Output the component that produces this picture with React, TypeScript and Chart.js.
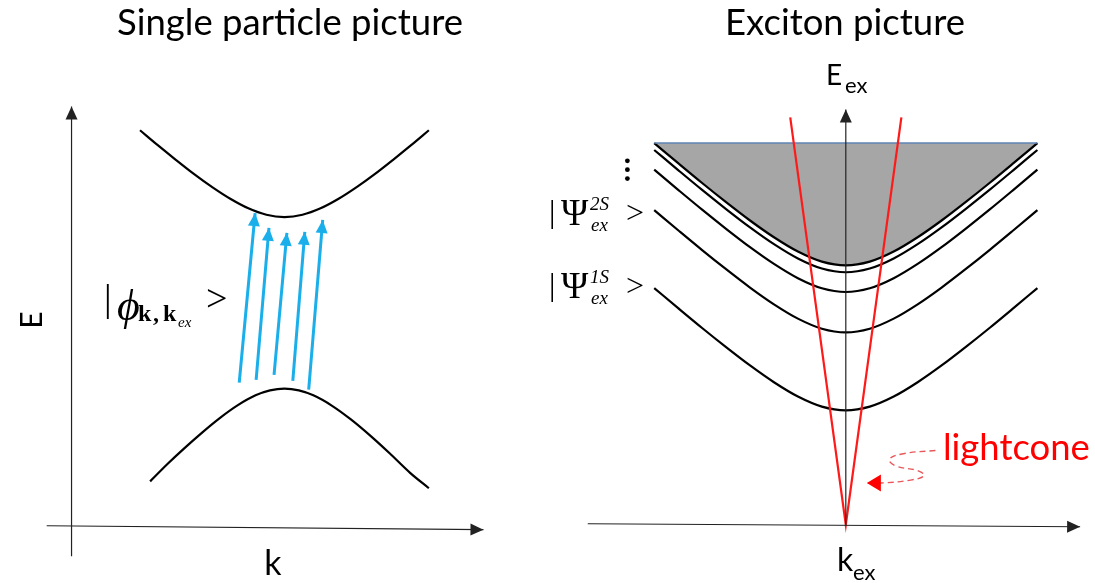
import { useEffect, useRef } from 'react';
import { Chart, registerables } from 'chart.js';

Chart.register(...registerables);

// ---------- Single particle picture (left panel) ----------
// k in units of the band half-width, E in arbitrary energy units
const bandK = [-1, -0.875, -0.75, -0.625, -0.5, -0.375, -0.25, -0.125, 0, 0.125, 0.25, 0.375, 0.5, 0.625, 0.75, 0.875, 1];
const conductionE = [4.02, 3.866, 3.718, 3.575, 3.443, 3.325, 3.228, 3.163, 3.14, 3.163, 3.228, 3.325, 3.443, 3.575, 3.718, 3.866, 4.02];
const valenceK = [-0.93, -0.81, -0.69, -0.57, -0.45, -0.325, -0.2, -0.1, 0, 0.1, 0.2, 0.33, 0.46, 0.6, 0.73, 0.87, 1.0];
const valenceE = [0.46, 0.636, 0.8, 0.955, 1.099, 1.23, 1.332, 1.382, 1.4, 1.382, 1.332, 1.226, 1.088, 0.916, 0.742, 0.546, 0.39];

// optical transitions valence -> conduction (tail and tip of each arrow)
const transFromK = [-0.313, -0.196, -0.072, 0.058, 0.168];
const transFromE = [1.46, 1.49, 1.54, 1.48, 1.39];
const transToK = [-0.203, -0.107, 0.017, 0.141, 0.265];
const transToE = [3.18, 3.03, 2.98, 2.99, 3.11];

// axes of the left panel
const leftAxisK = [-1.474, -1.474];
const leftAxisE = [-0.3, 4.26];
const leftBaseK = [-1.646, 1.378];
const leftBaseE = [0.01, -0.03];

// ---------- Exciton picture (right panel) ----------
const exK = [-1, -0.875, -0.75, -0.625, -0.5, -0.375, -0.25, -0.125, 0, 0.125, 0.25, 0.375, 0.5, 0.625, 0.75, 0.875, 1];
const continuumEdgeE = [3.87, 3.666, 3.465, 3.271, 3.085, 2.915, 2.77, 2.668, 2.63, 2.668, 2.77, 2.915, 3.085, 3.271, 3.465, 3.666, 3.87];
const rydberg4E = [3.8, 3.596, 3.395, 3.201, 3.015, 2.845, 2.7, 2.598, 2.56, 2.598, 2.7, 2.845, 3.015, 3.201, 3.395, 3.596, 3.8];
const rydberg3E = [3.6, 3.396, 3.195, 3.001, 2.815, 2.645, 2.5, 2.398, 2.36, 2.398, 2.5, 2.645, 2.815, 3.001, 3.195, 3.396, 3.6];
const exciton2SE = [3.19, 2.986, 2.785, 2.591, 2.405, 2.235, 2.09, 1.988, 1.95, 1.988, 2.09, 2.235, 2.405, 2.591, 2.785, 2.986, 3.19];
const exciton1SE = [2.4, 2.196, 1.995, 1.801, 1.615, 1.445, 1.3, 1.198, 1.16, 1.198, 1.3, 1.445, 1.615, 1.801, 1.995, 2.196, 2.4];
const continuumTopK = [-1, 1];
const continuumTopE = [3.87, 3.87];

// light cone: two photon lines meeting at k_ex = 0
const lightconeK = [-0.29, 0, 0.29];
const lightconeE = [4.13, 0, 4.13];

// dashed pointer from the "lightcone" label to the cone
const pointerK = [0.468, 0.3, 0.228, 0.261, 0.378, 0.408, 0.338, 0.183, 0.11];
const pointerE = [0.753, 0.72, 0.663, 0.597, 0.547, 0.497, 0.453, 0.423, 0.423];

// higher Rydberg states ellipsis
const dotsK = [-1.14, -1.14, -1.14];
const dotsE = [3.69, 3.6, 3.51];

// axes of the right panel
const rightAxisK = [0, 0];
const rightAxisE = [0, 4.21];
const rightBaseK = [-1.347, 1.223];
const rightBaseE = [0.01, -0.02];

const pts = (xs: number[], ys: number[]) => xs.map((x, i) => ({ x, y: ys[i] }));

const SANS = 'Lato, "Open Sans", sans-serif';
const SERIF = '"Liberation Serif", "DejaVu Serif", serif';

type Run = { t: string; font: string; x: number; y: number; color?: string };

const mathLabels: Run[][] = [
  [
    { t: '|', font: `38px ${SERIF}`, x: 104, y: 311 },
    { t: 'ϕ', font: `italic 44px ${SERIF}`, x: 117, y: 320 },
    { t: 'k', font: `bold 24px ${SERIF}`, x: 138, y: 321 },
    { t: ',', font: `bold 24px ${SERIF}`, x: 153, y: 321 },
    { t: 'k', font: `bold 24px ${SERIF}`, x: 163, y: 321 },
    { t: 'ex', font: `italic 15px ${SERIF}`, x: 178, y: 327 },
    { t: '>', font: `38px ${SERIF}`, x: 206, y: 311 },
  ],
  [
    { t: '|', font: `32px ${SERIF}`, x: 549, y: 222 },
    { t: 'Ψ', font: `37px ${SERIF}`, x: 561, y: 225 },
    { t: '2S', font: `italic 19px ${SERIF}`, x: 590, y: 210 },
    { t: 'ex', font: `italic 19px ${SERIF}`, x: 591, y: 231 },
    { t: '>', font: `32px ${SERIF}`, x: 626, y: 223 },
  ],
  [
    { t: '|', font: `32px ${SERIF}`, x: 549, y: 295 },
    { t: 'Ψ', font: `37px ${SERIF}`, x: 561, y: 298 },
    { t: '1S', font: `italic 19px ${SERIF}`, x: 590, y: 283 },
    { t: 'ex', font: `italic 19px ${SERIF}`, x: 591, y: 304 },
    { t: '>', font: `32px ${SERIF}`, x: 626, y: 296 },
  ],
];

const plainLabels: (Run & { align?: CanvasTextAlign })[] = [
  { t: 'Single particle picture', font: `36.5px ${SANS}`, x: 290, y: 35, align: 'center' },
  { t: 'Exciton picture', font: `36.5px ${SANS}`, x: 845, y: 35, align: 'center' },
  { t: 'k', font: `34px ${SANS}`, x: 273, y: 575, align: 'center' },
  { t: 'E', font: `28px ${SANS}`, x: 826, y: 85 },
  { t: 'ex', font: `22px ${SANS}`, x: 845, y: 93 },
  { t: 'k', font: `32px ${SANS}`, x: 837, y: 571 },
  { t: 'ex', font: `22px ${SANS}`, x: 853, y: 580 },
  { t: 'lightcone', font: `36.5px ${SANS}`, x: 943, y: 460, color: '#FF0000' },
];

const arrowHeads = {
  id: 'arrowHeads',
  afterDatasetsDraw(chart: any) {
    const ctx = chart.ctx as CanvasRenderingContext2D;
    chart.data.datasets.forEach((ds: any, i: number) => {
      if (!ds.arrowHead) return;
      const els = chart.getDatasetMeta(i).data;
      const a = els[els.length - 2];
      const b = els[els.length - 1];
      const ang = Math.atan2(b.y - a.y, b.x - a.x);
      const [len, half] = ds.arrowHead;
      const c = Math.cos(ang), s = Math.sin(ang);
      ctx.save();
      ctx.fillStyle = ds.arrowColor || ds.borderColor;
      ctx.beginPath();
      ctx.moveTo(b.x, b.y);
      ctx.lineTo(b.x - len * c + half * s, b.y - len * s - half * c);
      ctx.lineTo(b.x - len * c - half * s, b.y - len * s + half * c);
      ctx.closePath();
      ctx.fill();
      ctx.restore();
    });
  },
};

const textLayer = {
  id: 'textLayer',
  afterDraw(chart: any) {
    const ctx = chart.ctx as CanvasRenderingContext2D;
    ctx.save();
    ctx.textBaseline = 'alphabetic';
    plainLabels.forEach((r) => {
      ctx.font = r.font;
      ctx.fillStyle = r.color || '#000';
      ctx.textAlign = r.align || 'left';
      ctx.fillText(r.t, r.x, r.y);
    });
    ctx.textAlign = 'left';
    mathLabels.forEach((runs) =>
      runs.forEach((r) => {
        ctx.font = r.font;
        ctx.fillStyle = '#000';
        ctx.fillText(r.t, r.x, r.y);
      })
    );
    // rotated energy axis title of the left panel
    ctx.translate(32, 320);
    ctx.rotate(-Math.PI / 2);
    ctx.font = `30px ${SANS}`;
    ctx.textAlign = 'center';
    ctx.textBaseline = 'middle';
    ctx.fillText('E', 0, 0);
    ctx.restore();
  },
};

export default function App() {
  const ref = useRef<HTMLCanvasElement>(null);

  useEffect(() => {
    const L = { xAxisID: 'xL', yAxisID: 'yL' };
    const R = { xAxisID: 'xR', yAxisID: 'yR' };
    const curve = { showLine: true, pointRadius: 0, cubicInterpolationMode: 'monotone', fill: false };
    const band = { ...curve, borderColor: '#000', borderWidth: 2.2 };
    const axis = { showLine: true, pointRadius: 0, borderColor: '#222', borderWidth: 1.2, arrowHead: [13, 6], fill: false };

    const datasets: any[] = [
      // left panel
      { ...L, ...axis, data: pts(leftAxisK, leftAxisE), order: 1 },
      { ...L, ...axis, data: pts(leftBaseK, leftBaseE), order: 1 },
      { ...L, ...band, data: pts(bandK, conductionE), order: 2 },
      { ...L, ...band, data: pts(valenceK, valenceE), order: 2 },
      ...transFromK.map((k, i) => ({
        ...L,
        showLine: true,
        pointRadius: 0,
        borderColor: '#1AAFEA',
        borderWidth: 3,
        arrowHead: [13, 6],
        fill: false,
        data: pts([k, transToK[i]], [transFromE[i], transToE[i]]),
        order: 1,
      })),
      // right panel
      { ...R, ...axis, data: pts(rightAxisK, rightAxisE), order: 1 },
      { ...R, ...axis, data: pts(rightBaseK, rightBaseE), order: 1 },
      { ...R, showLine: true, pointRadius: 0, borderColor: '#FF1A1A', borderWidth: 2.2, fill: false, data: pts(lightconeK, lightconeE), order: 2 },
      {
        ...R,
        showLine: true,
        pointRadius: 0,
        tension: 0.45,
        borderColor: '#E8585A',
        borderWidth: 1.4,
        borderDash: [6, 4],
        arrowHead: [14, 8.5],
        arrowColor: '#FF0000',
        fill: false,
        data: pts(pointerK, pointerE),
        order: 1,
      },
      { ...R, showLine: true, pointRadius: 0, borderColor: '#5E83B5', borderWidth: 1.5, fill: false, data: pts(continuumTopK, continuumTopE), order: 3 },
      { ...R, ...band, fill: { value: continuumTopE[0] }, backgroundColor: '#A6A6A6', data: pts(exK, continuumEdgeE), order: 4 },
      { ...R, ...band, data: pts(exK, rydberg4E), order: 3 },
      { ...R, ...band, data: pts(exK, rydberg3E), order: 3 },
      { ...R, ...band, data: pts(exK, exciton2SE), order: 3 },
      { ...R, ...band, data: pts(exK, exciton1SE), order: 3 },
      { ...R, showLine: false, pointRadius: 2.4, pointBackgroundColor: '#000', pointBorderWidth: 0, data: pts(dotsK, dotsE), order: 1 },
    ];

    const chart = new Chart(ref.current!, {
      type: 'scatter',
      data: { datasets },
      options: {
        animation: false,
        responsive: false,
        events: [],
        layout: { padding: 0 },
        plugins: { legend: { display: false }, tooltip: { enabled: false }, title: { display: false } },
        scales: {
          xL: { type: 'linear', display: false, min: -1.9416, max: 5.5842 },
          yL: { type: 'linear', display: false, min: -0.53, max: 5.3 },
          xR: { type: 'linear', display: false, min: -4.3938, max: 1.2798 },
          yR: { type: 'linear', display: false, min: -0.55, max: 5.28 },
        },
      },
      plugins: [arrowHeads, textLayer],
    } as any);
    return () => chart.destroy();
  }, []);

  return (
    <div style={{ position: 'absolute', left: 0, top: 0, width: 1095, height: 583, background: '#fff' }}>
      <canvas ref={ref} width={1095} height={583} style={{ display: 'block' }} />
    </div>
  );
}
